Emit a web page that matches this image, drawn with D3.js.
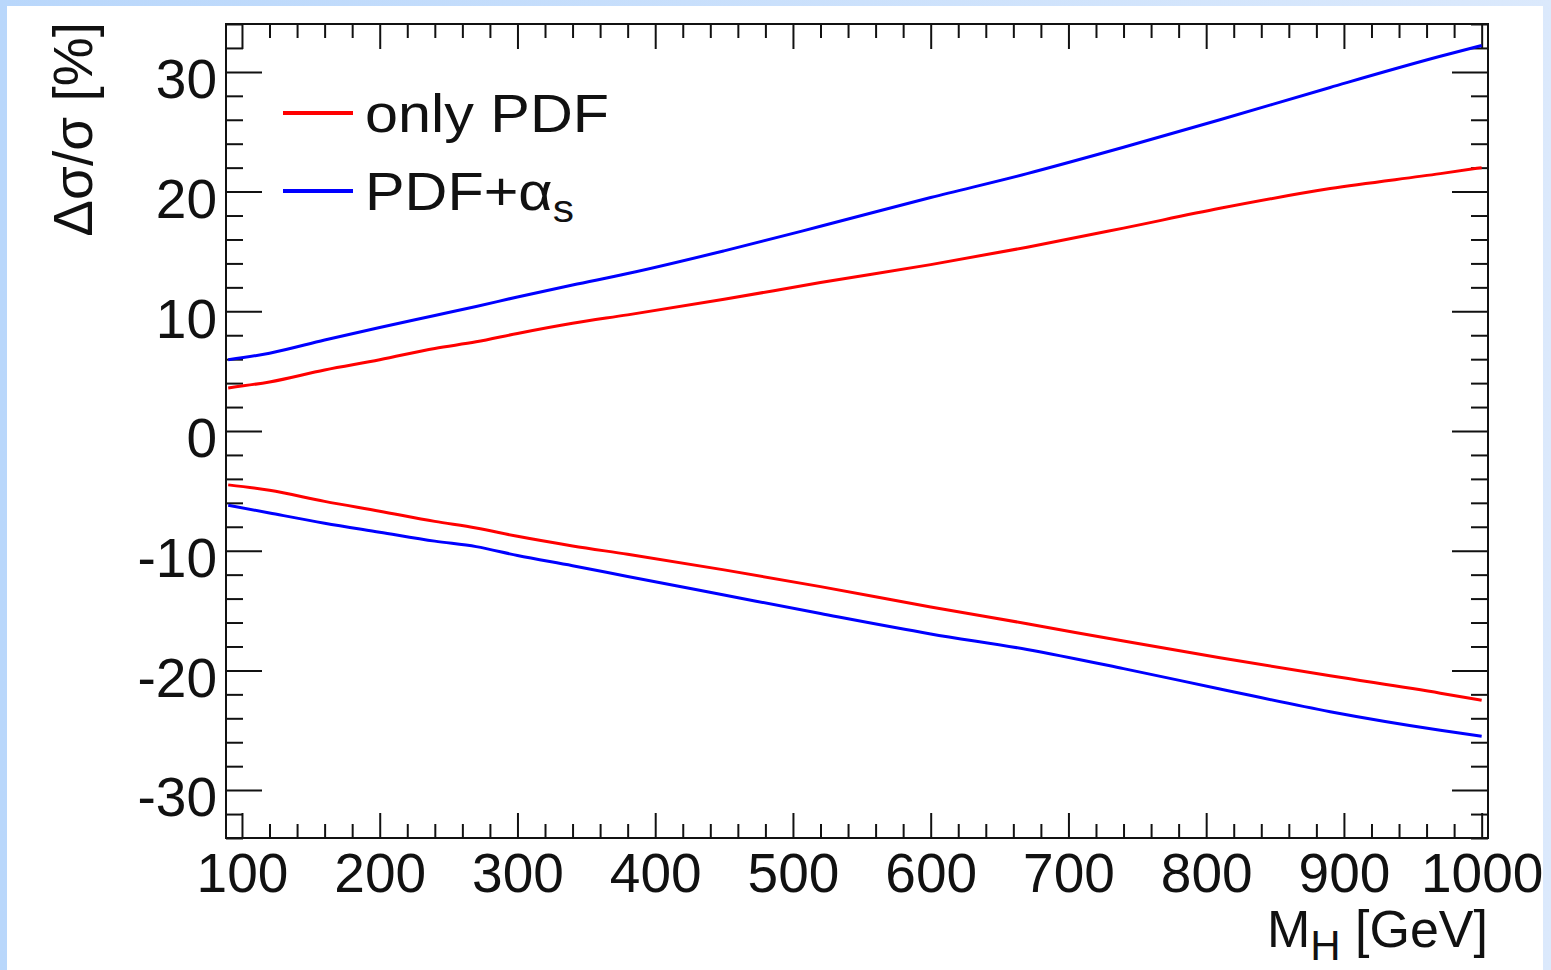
<!DOCTYPE html>
<html>
<head>
<meta charset="utf-8">
<script src="https://cdn.jsdelivr.net/npm/d3@7"></script>
<style>
body { margin: 0; background: #ffffff; }
svg { display: block; }
text { font-family: "Liberation Sans", Arial, Helvetica, sans-serif; fill: #111; }
.tick line { stroke: #111; stroke-width: 2; }
</style>
</head>
<body>
<svg id="chart"></svg>
<script>
var width = 1551;
var height = 970;
var margin = {left: 226, right: 63, top: 24, bottom: 132};

// M_H [GeV] at which the curves were read
var mass = [90, 120, 160, 200, 240, 270, 300, 340, 380, 450, 520, 600, 670, 740, 810, 890, 970, 1000];
// only PDF, upper / lower
var pdfUp   = [3.6, 4.1, 5.1, 5.95, 6.9, 7.45, 8.15, 9.0, 9.7, 11.0, 12.4, 13.9, 15.35, 16.95, 18.6, 20.25, 21.5, 22.0];
var pdfDown = [-4.5, -4.95, -5.88, -6.7, -7.55, -8.1, -8.8, -9.6, -10.3, -11.6, -13.0, -14.7, -16.1, -17.55, -18.95, -20.45, -21.9, -22.5];
// PDF + alpha_s, upper / lower
var pdfAsUp   = [5.95, 6.5, 7.6, 8.65, 9.65, 10.4, 11.2, 12.2, 13.15, 15.05, 17.1, 19.5, 21.5, 23.7, 26.0, 28.7, 31.3, 32.2];
var pdfAsDown = [-6.2, -6.85, -7.7, -8.45, -9.2, -9.66, -10.4, -11.25, -12.15, -13.7, -15.25, -16.95, -18.25, -19.85, -21.55, -23.45, -25.0, -25.5];

var xTicks = [100, 200, 300, 400, 500, 600, 700, 800, 900, 1000];
var yTicks = [-30, -20, -10, 0, 10, 20, 30];
var legendNames = ["only PDF", "PDF+\u03b1"];
var legendColours = ["#ff0000", "#0000ff"];

var svg = d3.select("#chart").attr("width", width).attr("height", height);

// slide background
var grad = svg.append("defs").append("linearGradient").attr("id", "bg");
grad.append("stop").attr("offset", "0%").attr("stop-color", "#b9d7fb");
grad.append("stop").attr("offset", "100%").attr("stop-color", "#dbe9fc");
svg.append("rect").attr("width", width).attr("height", height).attr("fill", "url(#bg)");
svg.append("rect").attr("x", 7).attr("y", 6).attr("width", 1536).attr("height", 964).attr("fill", "#ffffff");

var scaleX = d3.scaleLinear().domain([88.4, 1004.6]).range([margin.left, width - margin.right]);
var scaleY = d3.scaleLinear().domain([-34, 34]).range([height - margin.bottom, margin.top]);

var xMinor = d3.range(100, 1001, 20).filter(function(d) { return d % 100 != 0; });
var yMinor = d3.range(-34, 35, 2).filter(function(d) { return d % 10 != 0; });

function plainNumber(d) { return String(d); }

function addAxis(axis, tx, ty, values, size, labels) {
    axis.tickValues(values).tickSize(-size).tickSizeOuter(0);
    axis.tickFormat(labels ? plainNumber : "");
    var g = svg.append("g")
        .attr("transform", "translate(" + tx + "," + ty + ")")
        .call(axis);
    g.select(".domain").remove();
    return g;
}

var frameBottom = scaleY.range()[0], frameTop = scaleY.range()[1];
var frameLeft = scaleX.range()[0], frameRight = scaleX.range()[1];

// x axes (bottom with labels, top mirror)
var gx = addAxis(d3.axisBottom(scaleX).tickPadding(15), 0, frameBottom, xTicks, 25, true);
gx.selectAll("text").attr("font-size", 55).attr("dy", "0.71em");
addAxis(d3.axisBottom(scaleX), 0, frameBottom, xMinor, 14, false);
addAxis(d3.axisTop(scaleX), 0, frameTop, xTicks, 25, false);
addAxis(d3.axisTop(scaleX), 0, frameTop, xMinor, 14, false);

// y axes
var gy = addAxis(d3.axisLeft(scaleY).tickPadding(9), frameLeft, 0, yTicks, 36, true);
gy.selectAll("text").attr("font-size", 55).attr("dy", "0.47em");
addAxis(d3.axisLeft(scaleY), frameLeft, 0, yMinor, 17, false);
addAxis(d3.axisRight(scaleY), frameRight, 0, yTicks, 36, false);
addAxis(d3.axisRight(scaleY), frameRight, 0, yMinor, 17, false);

svg.append("rect")
    .attr("x", frameLeft).attr("y", frameTop)
    .attr("width", frameRight - frameLeft).attr("height", frameBottom - frameTop)
    .attr("fill", "none").attr("stroke", "#111").attr("stroke-width", 2);

// curves
var line = d3.line()
    .x(function(d) { return scaleX(d[0]); })
    .y(function(d) { return scaleY(d[1]); })
    .curve(d3.curveMonotoneX);

var series = [
    {values: pdfUp, colour: legendColours[0]},
    {values: pdfDown, colour: legendColours[0]},
    {values: pdfAsUp, colour: legendColours[1]},
    {values: pdfAsDown, colour: legendColours[1]}
];

svg.selectAll("path.curve").data(series).enter().append("path")
    .attr("class", "curve")
    .attr("d", function(s) { return line(d3.zip(mass, s.values)); })
    .attr("fill", "none")
    .attr("stroke", function(s) { return s.colour; })
    .attr("stroke-width", 3);

// legend
var legend = svg.selectAll("g.legend").data(legendNames).enter().append("g")
    .attr("class", "legend")
    .attr("transform", function(d, i) { return "translate(283," + (113 + i * 78) + ")"; });
legend.append("line")
    .attr("x1", 0).attr("x2", 70)
    .attr("stroke", function(d, i) { return legendColours[i]; })
    .attr("stroke-width", 4);
// the legend text in the picture is a little wider than the font
var legendText = legend.append("text")
    .attr("transform", "translate(82,19) scale(1.12,1)")
    .attr("font-size", 53)
    .text(function(d) { return d; });
legendText.filter(function(d, i) { return i == 1; })
    .append("tspan").attr("font-size", 38).attr("dy", 12).text("s");

// axis titles
var xTitle = svg.append("text")
    .attr("x", frameRight).attr("y", 947)
    .attr("text-anchor", "end")
    .attr("font-size", 52);
xTitle.append("tspan").text("M");
xTitle.append("tspan").attr("font-size", 42).attr("dy", 13).text("H");
xTitle.append("tspan").attr("dy", -13).text(" [GeV]");

svg.append("text")
    .attr("transform", "translate(92,22) rotate(-90)")
    .attr("text-anchor", "end")
    .attr("font-size", 55)
    .text("\u0394\u03c3/\u03c3 [%]");
</script>
</body>
</html>
